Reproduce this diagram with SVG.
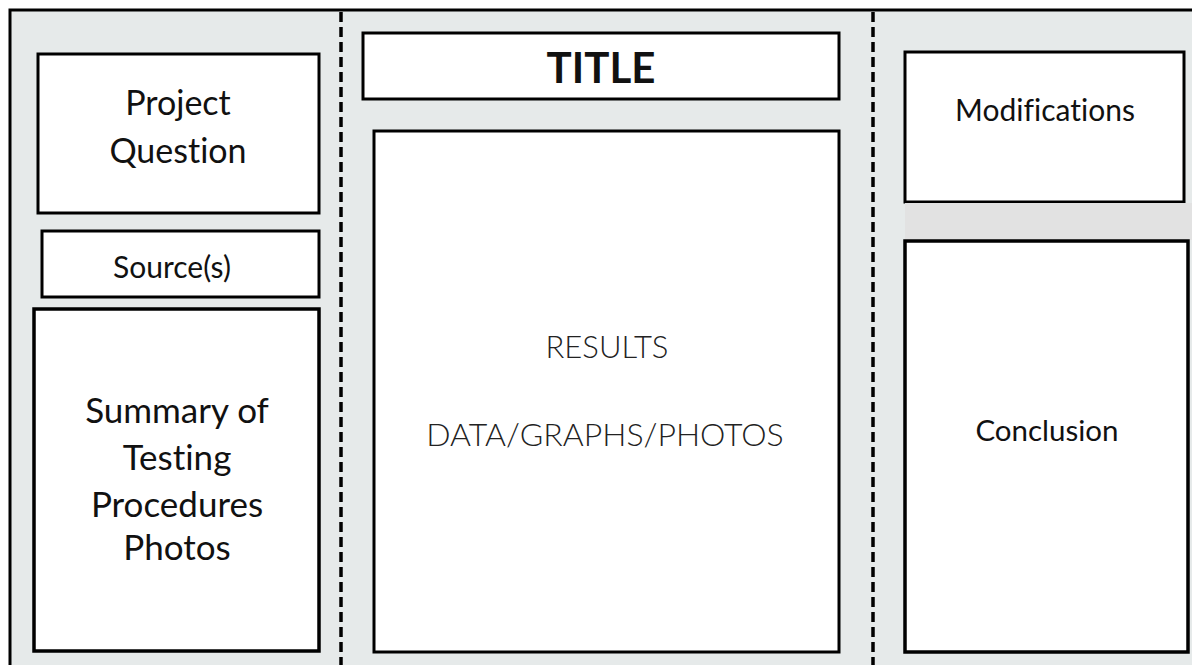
<svg xmlns="http://www.w3.org/2000/svg" width="1192" height="665" viewBox="0 0 1192 665">
<style>
.box{fill:#ffffff;stroke:#000000;stroke-width:3}
.thick{stroke-width:3.5}
.lbl{font-family:Lato,"Open Sans","Liberation Sans",sans-serif;fill:#111111;text-anchor:middle;font-variant-ligatures:none}
.light{font-weight:300;fill:#222222}
.divider{stroke:#000000;stroke-width:3.5;stroke-dasharray:10 5;fill:none}
</style>
<rect x="0" y="0" width="1192" height="665" fill="#ffffff"/>
<rect id="board" x="10" y="10" width="1200" height="700" fill="#e6eaea" stroke="#000000" stroke-width="3"/>
<g id="connectors">
<line class="divider" x1="341" y1="12" x2="341" y2="665"/>
<line class="divider" x1="873" y1="12" x2="873" y2="665"/>
</g>
<g id="project-question">
<rect class="box" x="38" y="54" width="281" height="159"/>
<text class="lbl" x="178" y="115" font-size="34">Project</text>
<text class="lbl" x="178" y="163" font-size="34">Question</text>
</g>
<g id="sources">
<rect class="box" x="42" y="231" width="277" height="66"/>
<text class="lbl" x="172" y="278" font-size="30">Source(s)</text>
</g>
<g id="summary">
<rect class="box thick" x="34" y="309" width="285" height="342"/>
<text class="lbl" x="177" y="423" font-size="35">Summary of</text>
<text class="lbl" x="177" y="470" font-size="35">Testing</text>
<text class="lbl" x="177" y="517" font-size="35">Procedures</text>
<text class="lbl" x="177" y="560" font-size="35">Photos</text>
</g>
<g id="title">
<rect class="box" x="363" y="33" width="476" height="66"/>
<text class="lbl" x="601" y="83" font-size="42" font-weight="700">TITLE</text>
</g>
<g id="results">
<rect class="box" x="374" y="131" width="465" height="521"/>
<text class="lbl light" x="607" y="358" font-size="31">RESULTS</text>
<text class="lbl light" x="605" y="446" font-size="32">DATA/GRAPHS/PHOTOS</text>
</g>
<g id="modifications">
<rect class="box" x="905" y="52" width="279" height="150"/>
<text class="lbl" x="1045" y="121" font-size="30">Modifications</text>
</g>
<rect id="band" x="905" y="203" width="287" height="37" fill="#e2e2e2"/>
<g id="conclusion">
<rect class="box thick" x="905" y="241" width="283" height="411"/>
<text class="lbl" x="1047" y="441" font-size="29.5">Conclusion</text>
</g>
</svg>
